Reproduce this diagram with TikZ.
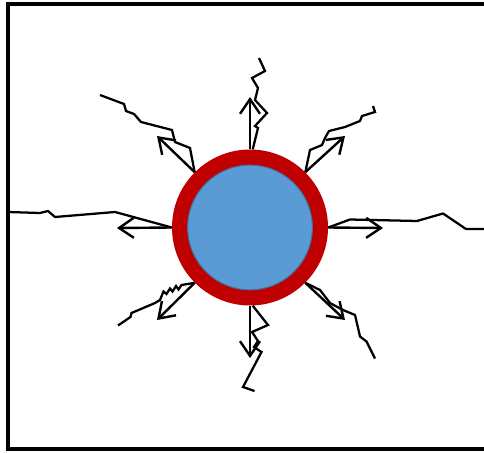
\documentclass[tikz,border=0pt]{standalone}
\usetikzlibrary{arrows.meta}
\definecolor{ringred}{HTML}{C00000}
\definecolor{cellblue}{HTML}{5B9BD5}
\definecolor{celledge}{HTML}{41719C}
\begin{document}
\begin{tikzpicture}[x=0.75pt,y=-0.75pt,
  ray/.style={line width=1.8pt, -{Straight Barb[length=11pt,width=15pt,line width=1.8pt]}},
  crack/.style={line width=1.7pt, line join=miter},
  frame/.style={line width=2.8pt},
  ring/.style={circle, fill=ringred, minimum size=117pt, inner sep=0pt},
  core/.style={circle, fill=cellblue, draw=celledge, line width=0.8pt, minimum size=93.5pt, inner sep=0pt}]
\useasboundingbox (0,0) rectangle (484,452);
\draw[frame] (484,4) -- (8,4) -- (8,449) -- (484,449);

\node[ring] (cell) at (250,227.5) {};
\node[core] (nucleus) at (250,227.5) {};

% arrow tips
\coordinate (tN) at (250,97);
\coordinate (tS) at (250,358);
\coordinate (tW) at (117,228);
\coordinate (tE) at (383,228);
\coordinate (tNW) at (157,136);
\coordinate (tNE) at (345,136);
\coordinate (tSW) at (157,320);
\coordinate (tSE) at (345,320);

\draw[ray] (cell.90) -- (tN);
\draw[ray] (cell.270) -- (tS);
\draw[ray] (cell.180) -- (tW);
\draw[ray] (cell.0) -- (tE);
\draw[ray] (cell.135) -- (tNW);
\draw[ray] (cell.45) -- (tNE);
\draw[ray] (cell.225) -- (tSW);
\draw[ray] (cell.315) -- (tSE);

% cracks
\draw[crack] (cell.88) -- (258,128) -- (255,126) -- (267,113) -- (255,100) -- (258,88) -- (252,78) -- (265,71) -- (259,58);
\draw[crack] (cell.135) -- (190,148) -- (175,142) -- (172,130) -- (141,122) -- (134,114) -- (126,111) -- (124,104) -- (100,95);
\draw[crack] (cell.45) -- (310,150) -- (322,145) -- (325,138) -- (329,131) -- (345,127) -- (360,121) -- (362,116) -- (375,112) -- (373,106);
\draw[crack] (cell.180) -- (115,212) -- (55,217) -- (48,211) -- (40,213) -- (8,212);
\draw[crack] (cell.0) -- (350,219.5) -- (417,221) -- (443,213.5) -- (466,229) -- (484,229);
\draw[crack] (cell.225) -- (181.5,285) -- (178.5,289.5) -- (176,286) -- (172.5,291.5) -- (170,288.5) -- (166.5,294) -- (163.5,291.5) -- (160,300) -- (155,303) -- (131.5,313) -- (130.5,317) -- (118,325.5);
\draw[crack] (cell.315) -- (320,290) -- (330,303) -- (343,310) -- (355,315) -- (360,336.5) -- (366.5,341.5) -- (375,358.5);
\draw[crack] (cell.272) -- (268,325) -- (252,332) -- (258,341) -- (254,347) -- (261.5,352) -- (243,387) -- (254.5,391);
\end{tikzpicture}
\end{document}
